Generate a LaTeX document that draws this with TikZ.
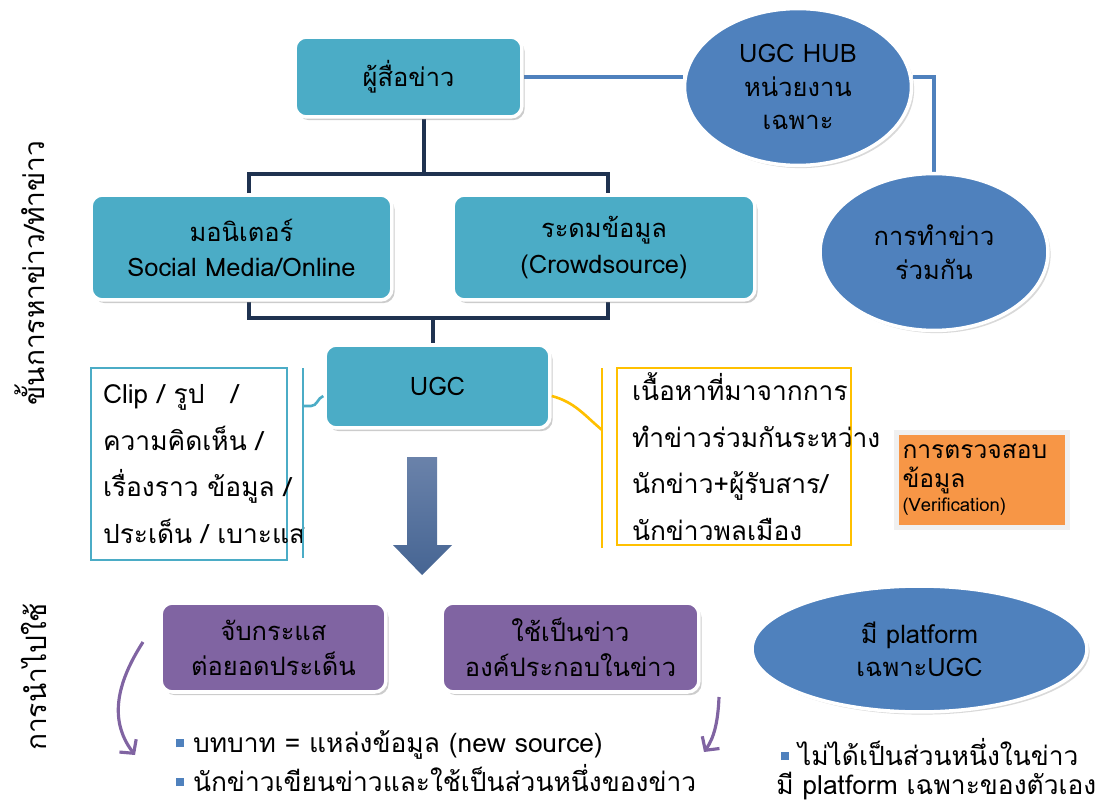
\documentclass[tikz,border=0pt]{standalone}
\usepackage{fontspec}
\setmainfont[Script=Thai]{Loma}
\usetikzlibrary{shapes.geometric,shadows,arrows.meta,backgrounds}
\definecolor{tealbox}{HTML}{4BACC6}
\definecolor{hubblue}{HTML}{4F81BD}
\definecolor{treenavy}{HTML}{1F3250}
\definecolor{purbox}{HTML}{8064A2}
\definecolor{orbox}{HTML}{F79646}
\definecolor{goldline}{HTML}{FFC000}
\definecolor{arrtop}{HTML}{6A82AA}
\definecolor{arrbot}{HTML}{466593}
\tikzset{
  rbox/.style={rectangle, rounded corners=6.5pt, draw=white, line width=2pt, align=center, inner sep=2pt,
    drop shadow={opacity=0.4, shadow xshift=1.5pt, shadow yshift=-1.8pt}, font=\fontsize{14.5}{20}\selectfont},
  tealb/.style={rbox, fill=tealbox},
  purpb/.style={rbox, fill=purbox},
  oval/.style={ellipse, fill=hubblue, draw=white, line width=2pt, align=center, inner sep=0pt,
    drop shadow={opacity=0.3, shadow xshift=1.5pt, shadow yshift=-1.5pt}, font=\fontsize{14.5}{19}\selectfont},
  framebox/.style={rectangle, line width=1.5pt, fill=white, align=left, inner ysep=2pt, font=\fontsize{15}{26.5}\selectfont},
  tree/.style={draw=treenavy, line width=1.9pt},
  hubline/.style={draw=hubblue, line width=1.9pt},
  curvearrow/.style={draw=purbox, line width=1.8pt, -{Straight Barb[length=5.5pt,width=12pt,line width=1.8pt]}},
  bullet/.style={anchor=west, inner sep=0pt, font=\fontsize{15}{20}\selectfont},
  sidelbl/.style={rotate=90, inner sep=0pt, font=\fontsize{16}{20}\selectfont}
}
\newcommand{\sqbul}{\textcolor{hubblue}{\rule[3pt]{4.5pt}{4.5pt}}\hspace{5pt}}

\begin{document}
\begin{tikzpicture}[x=0.02cm, y=-0.02cm]
        \useasboundingbox (0,0) rectangle (1105,807);
        %nodes
        \node[tealb, minimum width=4.54cm, minimum height=1.6cm] (reporter) at (408.5,77) {ผู้สื่อข่าว};
        \node[tealb, minimum width=6.02cm, minimum height=2.1cm] (monitor) at (241.5,247.5) {มอนิเตอร์\\Social Media/Online};
        \node[tealb, minimum width=6.04cm, minimum height=2.1cm] (crowd) at (604,247.5) {ระดมข้อมูล\\(Crowdsource)};
        \node[tealb, minimum width=4.5cm, minimum height=1.66cm] (ugc) at (437.5,386.5) {UGC};
        \node[oval, minimum width=4.54cm, minimum height=3.14cm] (hub) at (798,87) {UGC HUB\\หน่วยงาน\\เฉพาะ};
        \node[oval, minimum width=4.56cm, minimum height=3.14cm] (collab) at (934,252) {การทำข่าว\\ร่วมกัน};
        \node[framebox, draw=tealbox, text width=3.44cm, inner xsep=0.24cm, minimum height=3.84cm] (clipbox) at (189,464)
          {Clip~/~รูป~~~/\\ความคิดเห็น~/\\เรื่องราว~ข้อมูล~/\\ประเด็น~/~เบาะแส};
        \node[framebox, draw=goldline, text width=4.08cm, inner xsep=0.3cm, minimum height=3.54cm] (infobox) at (734,456.5)
          {เนื้อหาที่มาจากการ\\ทำข่าวร่วมกันระหว่าง\\นักข่าว+ผู้รับสาร/\\นักข่าวพลเมือง};
        \node[rectangle, fill=orbox, draw=gray!12, line width=2.5pt, align=left, text width=3.18cm, inner xsep=0.12cm,
          minimum height=1.9cm, drop shadow={opacity=0.35, fill=brown!60, shadow xshift=0.8pt, shadow yshift=-1.5pt},
          font=\fontsize{14}{16}\selectfont] (verify) at (982,480)
          {การตรวจสอบ\\ข้อมูล\\[-2pt]{\fontsize{10.5}{12}\selectfont (Verification)}};
        \node[purpb, minimum width=4.5cm, minimum height=1.78cm] (trend) at (273.5,647.5) {จับกระแส\\ต่อยอดประเด็น};
        \node[purpb, minimum width=5.14cm, minimum height=1.78cm] (usenews) at (570.5,647.5) {ใช้เป็นข่าว\\องค์ประกอบในข่าว};
        \node[oval, minimum width=6.7cm, minimum height=2.52cm] (platform) at (919.5,649) {มี platform\\เฉพาะUGC};
        \node[bullet] (role) at (176,745) {\sqbul บทบาท = แหล่งข้อมูล (new source)};
        \node[bullet] (write) at (176,778) {\sqbul นักข่าวเขียนข่าวและใช้เป็นส่วนหนึ่งของข่าว};
        \node[bullet] (notpart) at (781,752) {\sqbul ไม่ได้เป็นส่วนหนึ่งในข่าว};
        \node[bullet] (own) at (776,786) {มี platform เฉพาะของตัวเอง};
        \node[sidelbl] (findlbl) at (30,273) {ขั้นการหาข่าว/ทำข่าว};
        \node[sidelbl] (uselbl) at (34,677) {การนำไปใช้};
        %flow arrow
        \shade[top color=arrtop, bottom color=arrbot] (407,457) -- (437,457) -- (437,545) -- (452,545)
          -- (422,575) -- (393,545) -- (407,545) -- cycle;
        %edges
        \begin{scope}[on background layer]
        \coordinate (split) at (424,174);
        \coordinate (join) at (433,318);
        \draw[tree] (reporter.south -| split) -- (split);
        \draw[tree] ([xshift=0.15cm]monitor.north) |- (split) -| ([xshift=0.08cm]crowd.north);
        \draw[tree] ([xshift=0.15cm]monitor.south) |- (join) -| ([xshift=0.08cm]crowd.south);
        \draw[tree] (join) -- (join |- ugc.north);
        \draw[hubline] (reporter.east) -- (reporter.east -| hub.west);
        \draw[hubline] (hub.east |- reporter.east) -| (collab.north);
        \end{scope}
        %brackets
        \coordinate (lbrk) at (303,406);
        \coordinate (rbrk) at (602,430);
        \draw[draw=tealbox, line width=1.5pt] (303,368) -- (303,558);
        \draw[draw=tealbox, line width=1.5pt] (lbrk) -- ++(8,0) to[out=0,in=200] ([yshift=-0.19cm]ugc.west);
        \draw[draw=goldline, line width=1.5pt] (602,368) -- (602,548);
        \draw[draw=goldline, line width=1.5pt] ([yshift=-0.19cm]ugc.east) to[out=-15,in=140] (rbrk);
        %curved arrows
        \coordinate (lstart) at (143,642);
        \coordinate (lend) at (135,755);
        \coordinate (rstart) at (719,697);
        \coordinate (rend) at (704,752);
        \draw[curvearrow] (lstart) .. controls (112,690) and (112,725) .. (lend);
        \draw[curvearrow] (rstart) .. controls (718,722) and (714,738) .. (rend);
\end{tikzpicture}
\end{document}
